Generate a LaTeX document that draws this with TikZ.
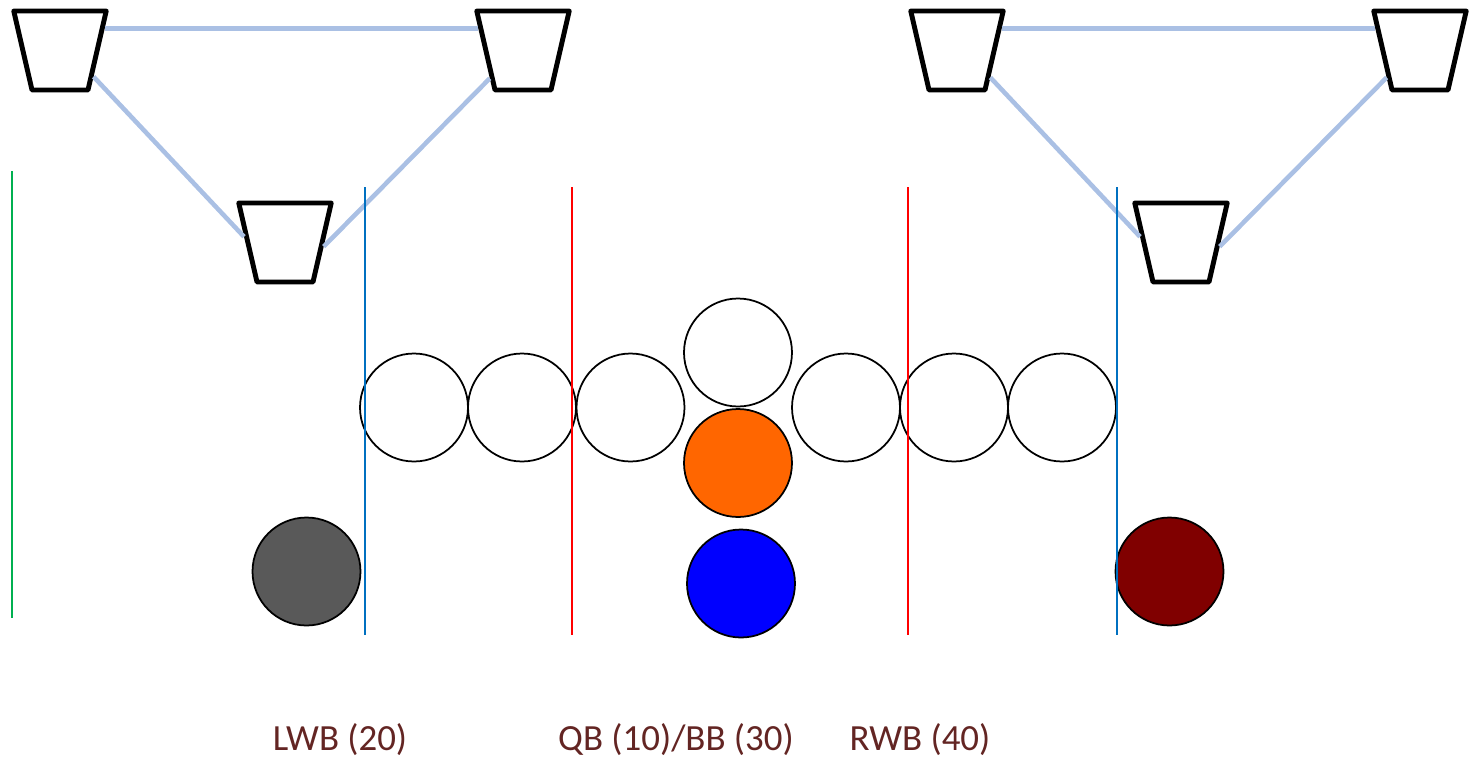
\documentclass[tikz,border=0pt]{standalone}
\usepackage{fontspec}
\setmainfont{Carlito}
\usetikzlibrary{shapes.geometric}
\definecolor{linkblue}{RGB}{170,192,228}
\definecolor{fieldgreen}{RGB}{0,176,80}
\definecolor{fieldblue}{RGB}{0,112,192}
\definecolor{labelred}{RGB}{99,37,35}
\begin{document}
\begin{tikzpicture}[x=0.02cm,y=-0.02cm,
    cam/.style={trapezium,shape border rotate=180,trapezium left angle=77,
        trapezium right angle=77,minimum width=0pt,minimum height=0pt,
        inner xsep=0.56cm,inner ysep=0.79cm,draw,line width=2.8pt,line join=round},
    player/.style={circle,draw,line width=1pt,minimum size=2.16cm,inner sep=0pt},
    link/.style={linkblue,line width=2.6pt},
    mark line/.style={line width=1.1pt},
    tag/.style={text=labelred,font=\fontsize{21}{25}\selectfont}]
    \useasboundingbox (0,0) rectangle (1472,758);
    % cameras
    \node[cam] (camA) at (60,50.5) {};
    \node[cam] (camB) at (523,50.5) {};
    \node[cam] (camC) at (285,242.5) {};
    \node[cam] (camD) at (957,50.5) {};
    \node[cam] (camE) at (1420,50.5) {};
    \node[cam] (camF) at (1181,242.5) {};
    \draw[link] (camA.26) -- (camB.154);
    \draw[link] (camA.-38) -- (camC.172);
    \draw[link] (camC.-6) -- (camB.-140);
    \draw[link] (camD.26) -- (camE.154);
    \draw[link] (camD.-39) -- (camF.172);
    \draw[link] (camF.-6) -- (camE.-141);
    % players
    \node[player] (p1) at (414,407.5) {};
    \node[player] (p2) at (522,407.5) {};
    \node[player] (p3) at (630.5,407.5) {};
    \node[player] (p4) at (846,407.5) {};
    \node[player] (p5) at (954,407.5) {};
    \node[player] (p6) at (1062,407.5) {};
    \node[player] (top) at (738,352.5) {};
    \node[player,fill={rgb,255:red,255;green,102;blue,0}] (qb) at (738,463) {};
    \node[player,fill={rgb,255:red,0;green,0;blue,255}] (bb) at (741,583.5) {};
    \node[player,fill={rgb,255:red,89;green,89;blue,89}] (lwb) at (306.5,571.5) {};
    \node[player,fill={rgb,255:red,128;green,0;blue,0}] (rwb) at (1169.5,571.5) {};
    % lines
    \draw[mark line,fieldgreen] (12,171) -- (12,618);
    \draw[mark line,fieldblue] (365,187) -- (365,635);
    \draw[mark line,red] (572,187) -- (572,635);
    \draw[mark line,red] (908,187) -- (908,635);
    \draw[mark line,fieldblue] (1117,187) -- (1117,635);
    \node[tag] (lwbtag) at (340,740) {LWB (20)};
    \node[tag] (qbtag) at (676,740) {QB (10)/BB (30)};
    \node[tag] (rwbtag) at (920,740) {RWB (40)};
\end{tikzpicture}
\end{document}
